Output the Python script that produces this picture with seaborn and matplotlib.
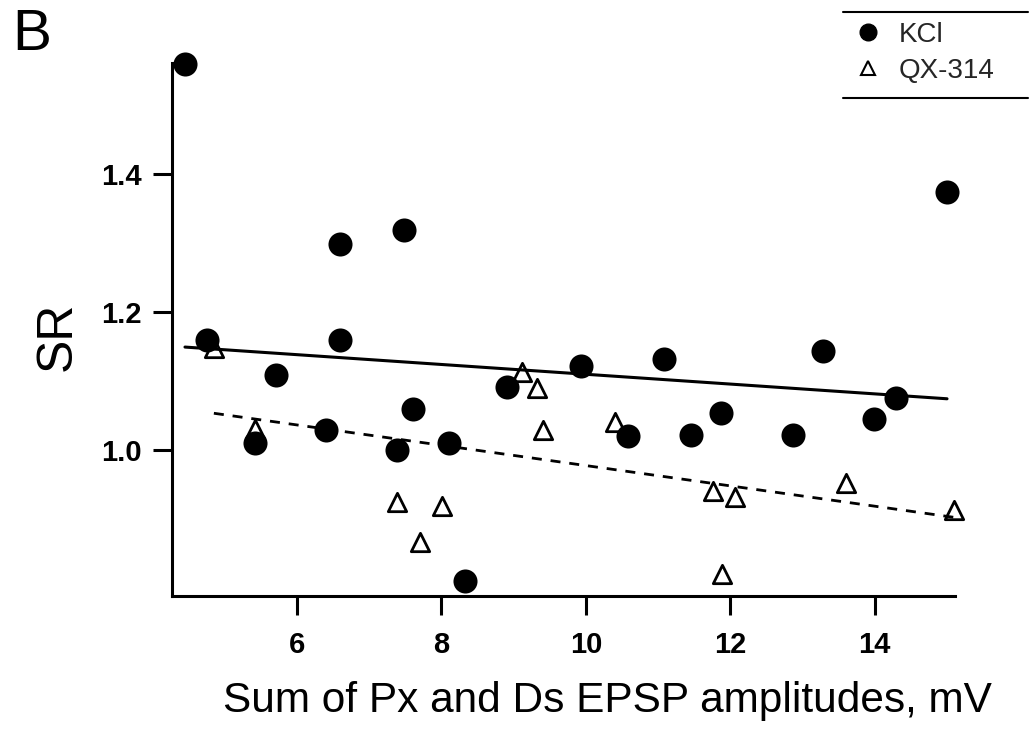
import matplotlib
matplotlib.use("Agg")
import matplotlib.pyplot as plt
import seaborn as sns
import pandas as pd
from matplotlib.lines import Line2D

# KCl (filled circles)
kcl_x = [4.45, 4.75, 5.42, 5.71, 6.40, 6.60, 6.60, 7.39, 7.48, 7.60, 8.10, 8.32,
         8.91, 9.93, 10.59, 11.08, 11.46, 11.87, 12.87, 13.28, 13.99, 14.30, 15.00]
kcl_y = [1.560, 1.159, 1.010, 1.108, 1.029, 1.299, 1.159, 1.000, 1.319, 1.059, 1.010, 0.810,
         1.091, 1.121, 1.020, 1.131, 1.022, 1.053, 1.022, 1.143, 1.045, 1.075, 1.374]

# QX-314 (open triangles)
qx_x = [4.85, 5.42, 7.39, 7.70, 8.01, 9.12, 9.33, 9.41, 10.40, 11.76, 11.88, 12.06, 13.60, 15.10]
qx_y = [1.148, 1.030, 0.925, 0.867, 0.919, 1.113, 1.090, 1.029, 1.040, 0.940, 0.820, 0.931, 0.952, 0.912]

# regression lines (end points)
kcl_fit_x = [4.45, 15.00]
kcl_fit_y = [1.149, 1.074]
qx_fit_x = [4.85, 15.10]
qx_fit_y = [1.053, 0.902]

x_ticks = [6, 8, 10, 12, 14]
x_tick_labels = ["6", "8", "10", "12", "14"]
y_ticks = [1.0, 1.2, 1.4]
y_tick_labels = ["1.0", "1.2", "1.4"]
series_names = ["KCl", "QX-314"]

sns.set_theme(style="ticks")
plt.rcParams["font.family"] = ["Liberation Sans", "DejaVu Sans"]

fig = plt.figure(figsize=(10.36, 7.3), dpi=100)
ax = fig.add_axes([0.166, 0.1836, 0.7558, 0.7301])

df_k = pd.DataFrame({"x": kcl_x, "y": kcl_y})
df_q = pd.DataFrame({"x": qx_x, "y": qx_y})

sns.scatterplot(data=df_q, x="x", y="y", ax=ax, marker="^", s=175, color="white",
                edgecolor="black", linewidth=2.0, clip_on=False, zorder=2, legend=False)
sns.lineplot(x=kcl_fit_x, y=kcl_fit_y, ax=ax, color="black", linewidth=2.2, zorder=3,
             legend=False)
sns.lineplot(x=qx_fit_x, y=qx_fit_y, ax=ax, color="black", linewidth=2.0,
             linestyle=(0, (3.6, 3.2)), zorder=3, legend=False)
sns.scatterplot(data=df_k, x="x", y="y", ax=ax, marker="o", s=300, color="black",
                edgecolor="black", linewidth=0, clip_on=False, zorder=4, legend=False)
if ax.get_legend() is not None:
    ax.get_legend().remove()

ax.set_xlim(4.27, 15.11)
ax.set_ylim(0.788, 1.561)
ax.set_xticks(x_ticks)
ax.set_xticklabels(x_tick_labels)
ax.set_yticks(y_ticks)
ax.set_yticklabels(y_tick_labels)

for s in ["top", "right"]:
    ax.spines[s].set_visible(False)
for s in ["left", "bottom"]:
    ax.spines[s].set_linewidth(2.2)
    ax.spines[s].set_color("black")

ax.tick_params(axis="both", direction="out", length=14, width=2.2, color="black",
               labelsize=21, labelcolor="black")
ax.tick_params(axis="x", pad=11)
ax.tick_params(axis="y", pad=8)
for lab in ax.get_xticklabels() + ax.get_yticklabels():
    lab.set_fontweight("bold")

ax.set_xlabel("Sum of Px and Ds EPSP amplitudes, mV", fontsize=30.5, color="black")
ax.xaxis.label.set_va("center")
ax.xaxis.set_label_coords(0.556, -0.197)
ax.set_ylabel("SR", fontsize=36, color="black")
ax.yaxis.label.set_rotation_mode("default")
ax.yaxis.label.set_va("center")
ax.yaxis.label.set_ha("center")
ax.yaxis.set_label_coords(-0.1456, 0.4878)

fig.text(12 / 1036, 1 - 50 / 730, "B", fontsize=42, color="black", va="baseline", ha="left")

# legend
handles = [
    Line2D([], [], linestyle="none", marker="o", markersize=12, color="black"),
    Line2D([], [], linestyle="none", marker="^", markersize=10.5, markerfacecolor="white",
           markeredgecolor="black", markeredgewidth=1.5),
]
fig.legend(handles, series_names, loc="upper left", bbox_to_anchor=(854 / 1036, 1 - 22 / 730),
           frameon=False, fontsize=20, handlelength=1.0, handletextpad=0.6,
           labelspacing=0.35, borderpad=0, borderaxespad=0)
for yy in [12, 98]:
    fig.add_artist(Line2D([843 / 1036, 1028 / 1036], [1 - yy / 730, 1 - yy / 730],
                          transform=fig.transFigure, color="black", linewidth=1.5))

fig.savefig("out.png", dpi=100)
